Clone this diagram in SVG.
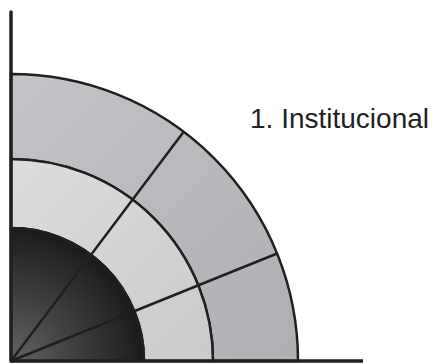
<svg xmlns="http://www.w3.org/2000/svg" width="435" height="364" viewBox="0 0 435 364">
<defs>
<linearGradient id="gOuter" x1="0" y1="0" x2="1" y2="1">
<stop offset="0" stop-color="#c3c4c7"/>
<stop offset="1" stop-color="#aeafb2"/>
</linearGradient>
<linearGradient id="gMid" x1="0" y1="0" x2="1" y2="1">
<stop offset="0" stop-color="#dcdddf"/>
<stop offset="1" stop-color="#c9cacc"/>
</linearGradient>
<radialGradient id="gInner" cx="11" cy="361" r="133" gradientUnits="userSpaceOnUse">
<stop offset="0" stop-color="#626366"/>
<stop offset="1" stop-color="#1c1a1b"/>
</radialGradient>
</defs>
<style>
.ln{fill:none;stroke:#231f20;stroke-width:2.5}
.ring{stroke:#231f20;stroke-width:2.5}
.ax{fill:none;stroke:#231f20;stroke-width:3.5;stroke-linecap:round}
.lbl{font-family:"Liberation Sans",Arial,sans-serif;font-size:28px;fill:#231f20}
</style>
<g id="outer-ring">
<path d="M11 74 A287 287 0 0 1 298 361 L213 361 A202 202 0 0 0 11 159 Z" fill="url(#gOuter)" class="ring"/>
</g>
<g id="middle-ring">
<path d="M11 159 A202 202 0 0 1 213 361 L144 361 A133 133 0 0 0 11 228 Z" fill="url(#gMid)" class="ring"/>
</g>
<g id="inner-core">
<path d="M11 361 L11 228 A133 133 0 0 1 144 361 Z" fill="url(#gInner)" class="ring"/>
</g>
<g id="connectors">
<line x1="11" y1="361" x2="183.7" y2="131.8" class="ln"/>
<line x1="11" y1="361" x2="277.1" y2="253.5" class="ln"/>
<line x1="11" y1="12" x2="11" y2="361" class="ax"/>
<line x1="11" y1="361" x2="363" y2="361" class="ax" style="stroke-linecap:butt"/>
</g>
<g id="label">
<text x="250" y="128" class="lbl">1. Institucional</text>
</g>
</svg>
